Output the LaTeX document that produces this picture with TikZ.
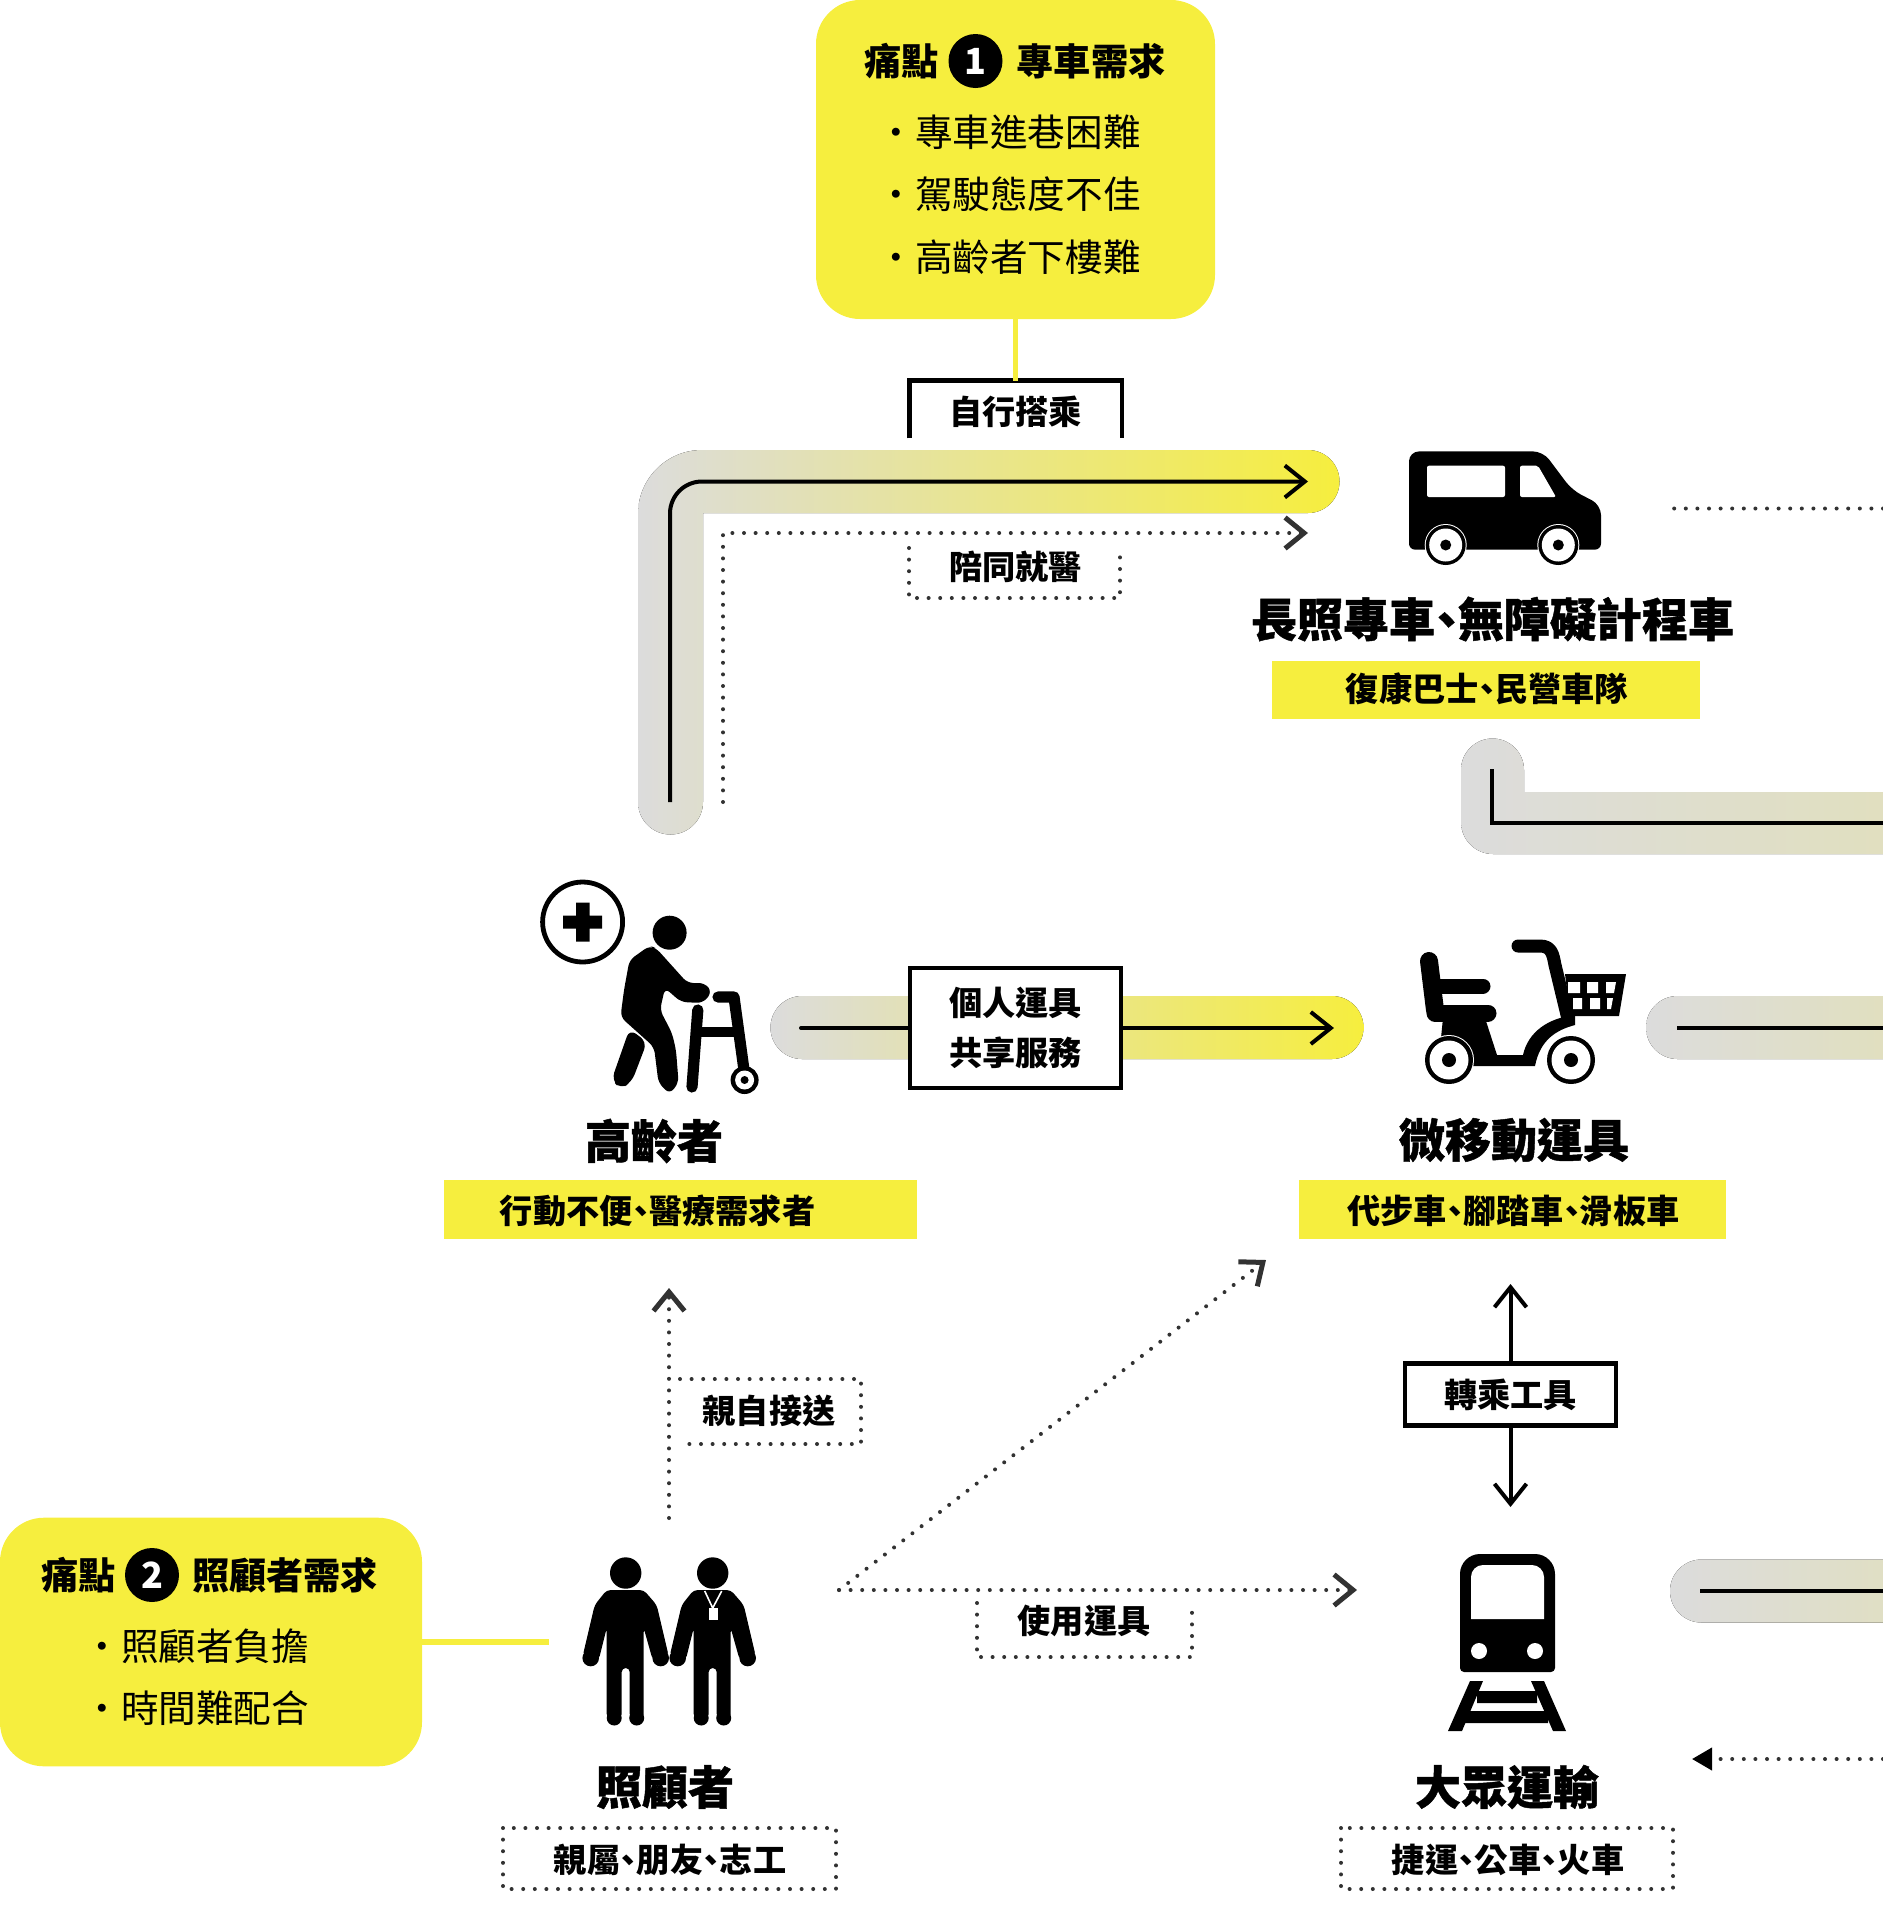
\documentclass[tikz,border=0pt]{standalone}
\usepackage{fontspec}
\setmainfont{Noto Sans CJK TC}
\newfontfamily\subfont{Noto Sans CJK TC}[RawFeature=+palt]
\newfontfamily\heavyfont{Noto Sans CJK TC}[RawFeature=+palt,BoldFeatures={FakeBold=1}]
\usetikzlibrary{positioning,arrows.meta}
\definecolor{pain0}{RGB}{246,238,62}
\definecolor{band0}{RGB}{220,220,220}
\definecolor{dot0}{RGB}{50,50,50}
\tikzset{
  every node/.style={inner sep=0pt},
  nametext/.style={font=\heavyfont\bfseries\fontsize{23}{27}\selectfont},
  subtext/.style={font=\subfont\bfseries\fontsize{16.6}{20}\selectfont},
  painhead/.style={font=\bfseries\fontsize{18.6}{22}\selectfont},
  painitem/.style={font=\fontsize{18.8}{22}\selectfont},
  painbox/.style={fill=pain0,rounded corners=22pt},
  numdot/.style={circle,fill=black,text=white,minimum size=27pt,font=\bfseries\fontsize{18}{22}\selectfont},
  subbar/.style={fill=pain0},
  tagbox/.style={subtext,draw=black,line width=2.2pt,fill=white,align=center},
  dotline/.style={draw=dot0,line width=2pt,line cap=round,dash pattern=on 0pt off 5.8pt},
  tagline/.style={draw=black,line width=2.2pt},
  painline/.style={draw=pain0,line width=2.6pt},
  flowline/.style={draw=black,line width=2pt},
  flowarrow/.style={flowline,-{Straight Barb[length=10pt,width=16pt,line width=2pt]}},
  dotarrow/.style={dotline,-{Straight Barb[length=9.5pt,width=15.5pt,line width=2.5pt,color=dot0]}},
  bandfade/.style={left color=band0,right color=pain0},
  carer/.pic={
    \fill (0,0) circle (15.7);
    \fill[rounded corners=2pt] (-19,17) -- (-31,32) -- (-43,83) -- (-27,87) -- (-19,55) -- (-19,145) -- (-4,145) -- (-4,95) -- (4,95) -- (4,145) -- (18,145) -- (18,55) -- (27,87) -- (43,83) -- (31,32) -- (18,17) -- cycle;
    \fill (-35,85) circle (8.3) (35,85) circle (8.3) (-11.5,145) circle (7.5) (11,145) circle (7.5);
  },
}

\begin{document}
\begin{tikzpicture}[x=0.5pt,y=-0.5pt]
    \clip (0,0) rectangle (1883,1907);
    % bands
    \fill[bandfade] (638,802) -- (638,514) arc (180:270:64) -- (1308,450) arc (270:450:31.5) -- (703,513) -- (703,802) arc (0:180:32.5) -- cycle;
    \fill[bandfade] (1524,770) arc (0:-180:31.5) -- (1461,822) arc (180:90:32) -- (3800,854) -- (3800,792) -- (1524,792) -- cycle;
    \fill[bandfade] (802,996) arc (270:90:31.5) -- (1332,1059) arc (90:-90:31.5) -- cycle;
    \fill[bandfade] (1677.5,996) arc (270:90:31.5) -- (2960,1059) -- (2960,996) -- cycle;
    \fill[bandfade] (1701.5,1559.5) arc (270:90:31.5) -- (3090,1622.5) -- (3090,1559.5) -- cycle;

    % pain cards
    \node[painbox,minimum width=199.5pt,minimum height=159.5pt] (pain1) at (1015.5,159.5) {};
    \node[painhead] (pain1Word) at (901.5,61) {痛點};
    \node[numdot] (pain1Num) at (975.5,61) {1};
    \node[painhead] (pain1Title) at (1091,61) {專車需求};
    \node[painitem,anchor=west] (pain1A) at (877,132) {・專車進巷困難};
    \node[painitem,below=31.3pt of pain1A.west,anchor=west] (pain1B) {・駕駛態度不佳};
    \node[painitem,below=31.3pt of pain1B.west,anchor=west] (pain1C) {・高齡者下樓難};

    \node[painbox,minimum width=211pt,minimum height=124.3pt] (pain2) at (211,1642) {};
    \node[painhead] (pain2Word) at (79,1575) {痛點};
    \node[numdot] (pain2Num) at (152,1575) {2};
    \node[painhead] (pain2Title) at (285,1575) {照顧者需求};
    \node[painitem,anchor=west] (pain2A) at (83,1646) {・照顧者負擔};
    \node[painitem,below=31.3pt of pain2A.west,anchor=west] (pain2B) {・時間難配合};

    % labels on the routes
    \node[subtext,minimum width=105.8pt,minimum height=31pt] (ride) at (1015.5,412) {自行搭乘};
    \draw[tagline] ([yshift=2.5pt]ride.south west) -- (ride.north west) -- (ride.north east) -- ([yshift=2.5pt]ride.south east);
    \node[subtext] (escort) at (1015.5,567) {陪同就醫};
    \draw[dotline] (909,548) -- (909,598) -- (1120,598) -- (1120,548);
    \node[tagbox,minimum width=105.5pt,minimum height=60pt,execute at begin node={\baselineskip=25pt}] (personal) at (1015.5,1028) {個人運具\\共享服務};
    \node[tagbox,minimum width=105.5pt,minimum height=31pt] (transfer) at (1510.5,1394.6) {轉乘工具};
    \node[subtext] (pickup) at (769,1411) {親自接送};
    \draw[dotline] (680,1379) -- (861,1379) -- (861,1444) -- (680,1444);
    \node[subtext] (usetool) at (1084,1621) {使用運具};
    \draw[dotline] (977,1603) -- (977,1657) -- (1192,1657) -- (1192,1603);

    % van
    \fill[rounded corners=5pt] (1409,549.6) -- (1409,451.4) -- (1543,451.4) -- (1572,490) -- (1601,505) [rounded corners=3pt] -- (1601,549.6) -- cycle;
    \fill[white,rounded corners=1pt] (1427,465.7) rectangle (1505,497);
    \fill[white,rounded corners=1pt] (1520,465.7) -- (1538,465.7) -- (1556,497) -- (1520,497) -- cycle;
    \fill[white] (1445.7,545) circle (21) (1558.3,545) circle (21);
    \fill (1445.7,545) circle (20) (1558.3,545) circle (20);
    \fill[white] (1445.7,545) circle (16.5) (1558.3,545) circle (16.5);
    \fill (1445.7,545) circle (5.5) (1558.3,545) circle (5.5);
    \node[nametext] (vanName) at (1492.5,619) {長照專車、無障礙計程車};
    \node[subbar,minimum width=214pt,minimum height=29pt] (vanBar) at (1486,689.5) {};
    \node[subtext] (vanSub) at (1487,689) {復康巴士、民營車隊};

    % elder
    \draw[line width=2.4pt] (582.6,922) circle (40);
    \fill (576,902.5) rectangle (589.5,941.5) (563,915.5) rectangle (602,928.5);
    \fill (669.6,932.7) circle (17);
    \fill[rounded corners=3pt] (649.6,945.7) -- (656,948) -- (687.5,983) -- (705,983) -- (712,992) -- (703,1003) -- (681,1002) -- (665,988) -- (660,1010) -- (672,1033) -- (676,1050) -- (678.6,1083) -- (669.6,1094) -- (658.5,1083) -- (654,1047) -- (620.5,1017) -- (624,990) -- (629.5,960) -- cycle;
    \fill[rounded corners=4pt] (629.5,1029) -- (647,1042) -- (631.7,1082) -- (620.5,1089) -- (611.6,1080) -- cycle;
    \draw[line width=5.6pt,line cap=round,line join=round] (718,997) -- (734,997) -- (744,1070);
    \draw[line width=5.6pt,line cap=round] (697.8,1010) -- (692,1087);
    \draw[line width=5pt] (695,1032) -- (738,1032);
    \fill (744.6,1080) circle (14);
    \fill[white] (744.6,1080) circle (9.5);
    \fill (744.6,1080) circle (4);
    \node[nametext] (elderName) at (654,1141) {高齡者};
    \node[subbar,minimum width=236.25pt,minimum height=29.5pt] (elderBar) at (680.25,1209.5) {};
    \node[subtext] (elderSub) at (657.5,1210.5) {行動不便、醫療需求者};

    % scooter
    \draw[line width=9pt,line cap=round] (1429,961) -- (1435,1010);
    \draw[line width=7.5pt,line cap=round] (1435,986) -- (1483,986);
    \draw[line width=8.5pt,line cap=round] (1435,1013) -- (1488,1013);
    \fill (1443,1018) -- (1485,1018) -- (1497,1055) -- (1523,1055) .. controls (1528,1032) and (1548,1018) .. (1575,1015) -- (1575,1025) .. controls (1556,1030) and (1540,1040) .. (1535,1066) -- (1450,1066) -- (1440,1048) -- cycle;
    \draw[line width=6.5pt,line cap=round,line join=round] (1518,946) -- (1540,946) .. controls (1552,946) and (1553,955) .. (1555,965) -- (1568,1019);
    \fill (1565,974) -- (1626,974) -- (1619,1016) -- (1570,1016) -- cycle;
    \fill[white] (1568,982) rectangle (1580,993) (1587,982) rectangle (1598,993) (1606,982) -- (1616,982) -- (1614,993) -- (1606,993) -- cycle;
    \fill[white] (1573,998) rectangle (1582,1009) (1590,998) rectangle (1600,1009) (1607,998) -- (1613,998) -- (1611,1009) -- (1607,1009) -- cycle;
    \fill[white] (1449,1060) circle (25) (1571,1060) circle (25);
    \fill (1449,1060) circle (24) (1571,1060) circle (24);
    \fill[white] (1449,1060) circle (19.5) (1571,1060) circle (19.5);
    \fill (1449,1060) circle (7) (1571,1060) circle (7);
    \node[nametext] (scooterName) at (1514,1140) {微移動運具};
    \node[subbar,minimum width=213.5pt,minimum height=29.5pt] (scooterBar) at (1512.5,1209.5) {};
    \node[subtext] (scooterSub) at (1513.5,1210.5) {代步車、腳踏車、滑板車};

    % carers
    \pic at (625.7,1573) {carer};
    \pic at (712.7,1573) {carer};
    \draw[white,line width=0.8pt] (704.7,1591) -- (712.7,1608) -- (721.7,1591);
    \fill[white] (708.7,1608) rectangle (717.7,1620);
    \node[nametext] (carerName) at (665,1787) {照顧者};
    \node[subtext,minimum width=166.5pt,minimum height=30.5pt] (carerSub) at (670,1859.5) {親屬、朋友、志工};
    \draw[dotline] (503,1828) rectangle (836,1889);

    % train
    \fill[rounded corners=2pt] (1460,1672) [rounded corners=10pt] -- (1460,1554) -- (1555,1554) [rounded corners=2pt] -- (1555,1672) -- cycle;
    \fill[white] (1471,1619) [rounded corners=6pt] -- (1471,1565) -- (1544,1565) [sharp corners] -- (1544,1619) -- cycle;
    \fill[white] (1479,1651) circle (8) (1535,1651) circle (8);
    \fill (1470,1681) -- (1483,1681) -- (1462,1731) -- (1448,1731) -- cycle;
    \fill (1531,1681) -- (1544,1681) -- (1566,1731) -- (1553,1731) -- cycle;
    \fill (1477,1691) rectangle (1537,1703) (1465,1711) rectangle (1548,1723);
    \node[nametext] (trainName) at (1507,1787) {大眾運輸};
    \node[subtext,minimum width=166pt,minimum height=30.5pt] (trainSub) at (1508,1859.5) {捷運、公車、火車};
    \draw[dotline] (1341,1828) rectangle (1673,1889);

    % free ends
    \coordinate (elderUp) at (670,802);
    \coordinate (vanIn) at (1308,481.5);
    \coordinate (escortUp) at (723,802);
    \coordinate (escortIn) at (1308,533);
    \coordinate (vanBack) at (1492,769);
    \coordinate (vanBackEnd) at (1883,823);
    \coordinate (vanOut) at (1883,508.5);
    \coordinate (vanOutEnd) at (1669,508.5);
    \coordinate (elderOut) at (801,1028);
    \coordinate (scooterIn) at (1334,1028);
    \coordinate (scooterOut) at (1677,1027.5);
    \coordinate (scooterOutEnd) at (1883,1027.5);
    \coordinate (scooterUp) at (1510.5,1284);
    \coordinate (trainUp) at (1510.5,1507);
    \coordinate (trainOut) at (1700,1591);
    \coordinate (trainOutEnd) at (1883,1591);
    \coordinate (trainBack) at (1883,1759);
    \coordinate (trainBackEnd) at (1692,1759);
    \coordinate (carerUp) at (669,1518);
    \coordinate (elderDown) at (669,1288);
    \coordinate (carerOut) at (839,1590);
    \coordinate (scooterDown) at (1266,1260);
    \coordinate (trainIn) at (1357,1590);
    \coordinate (carerLeft) at (549,1642);

    % connectors
    \draw[painline] (pain1.south) -- (ride.north);
    \draw[painline] (pain2.east) -- (carerLeft);
    \draw[flowarrow,rounded corners=16pt] (elderUp) |- (vanIn);
    \draw[dotarrow] (escortUp) |- (escortIn);
    \draw[flowline] (vanBack) |- (vanBackEnd);
    \draw[dotline] (vanOut) -- (vanOutEnd);
    \draw[flowline,line cap=round] (elderOut) -- (personal.west);
    \draw[flowarrow] (personal.east) -- (scooterIn);
    \draw[flowline] (scooterOut) -- (scooterOutEnd);
    \draw[flowarrow] (transfer.north) -- (scooterUp);
    \draw[flowarrow] (transfer.south) -- (trainUp);
    \draw[flowline] (trainOut) -- (trainOutEnd);
    \draw[dotline,-{Triangle[length=10pt,width=11pt,color=black]}] (trainBack) -- (trainBackEnd);
    \draw[dotarrow] (carerUp) -- (elderDown);
    \draw[dotarrow] (carerOut) -- (scooterDown);
    \draw[dotarrow] (carerOut) -- (trainIn);
  \end{tikzpicture}
\end{document}
